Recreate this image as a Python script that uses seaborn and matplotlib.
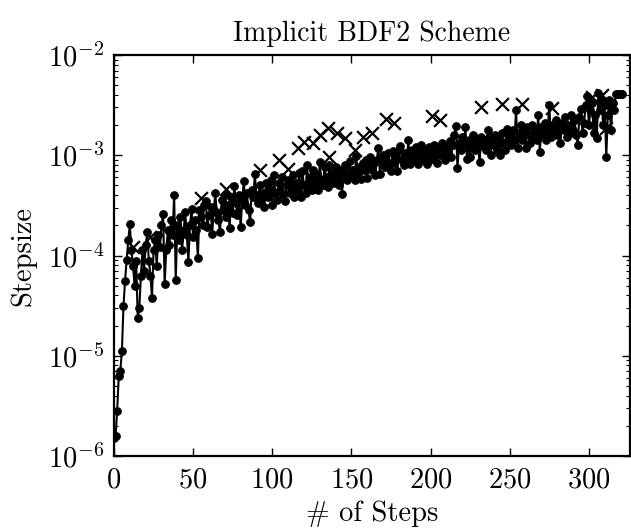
import matplotlib
matplotlib.use("Agg")
import matplotlib.pyplot as plt
import matplotlib.ticker as mticker
import numpy as np
import seaborn as sns

# log10 of the accepted step size at each step
log_stepsize = [
    -5.82, -5.80, -5.55, -5.20, -5.15, -4.95, -4.50, -4.25, -4.04, -3.85,
    -3.69, -3.95, -4.10, -4.30, -4.05, -4.62, -4.52, -4.20, -3.95, -4.15,
    -3.90, -3.77, -4.05, -4.20, -4.42, -3.95, -3.85, -4.10, -3.80, -3.92,
    -3.70, -3.59, -4.28, -3.95, -3.75, -3.90, -3.65, -3.80, -3.40, -4.24,
    -3.70, -3.85, -3.62, -3.95, -3.75, -3.57, -3.80, -4.06, -3.70, -3.54,
    -3.82, -3.65, -3.75, -4.02, -3.55, -3.62, -3.70, -3.50, -3.46, -3.72,
    -3.60, -3.52, -3.79, -3.55, -3.38, -3.58, -3.65, -3.77, -3.45, -3.55,
    -3.40, -3.62, -3.50, -3.73, -3.42, -3.58, -3.31, -3.48, -3.60, -3.40,
    -3.72, -3.45, -3.26, -3.50, -3.38, -3.55, -3.67, -3.35, -3.42, -3.19,
    -3.40, -3.48, -3.30, -3.45, -3.38, -3.52, -3.28, -3.42, -3.35, -3.25,
    -3.50, -3.20, -3.38, -3.45, -3.28, -3.35, -3.22, -3.40, -3.46, -3.30,
    -3.25, -3.38, -3.32, -3.20, -3.42, -3.28, -3.35, -3.18, -3.42, -3.16,
    -3.30, -3.38, -3.10, -3.32, -3.22, -3.35, -3.15, -3.28, -3.20, -3.35,
    -3.07, -3.25, -3.30, -3.12, -3.22, -3.32, -3.10, -3.25, -3.18, -3.28,
    -3.12, -3.22, -3.30, -3.15, -3.39, -3.20, -3.10, -3.25, -3.18, -3.06,
    -3.20, -3.15, -3.25, -3.01, -3.18, -3.12, -3.24, -3.08, -3.15, -3.05,
    -3.23, -3.10, -3.02, -3.15, -3.08, -3.20, -3.05, -2.93, -3.19, -3.05,
    -3.00, -3.12, -3.05, -2.98, -3.10, -3.16, -2.96, -3.08, -3.02, -3.16,
    -2.95, -2.91, -3.05, -3.10, -2.98, -3.02, -2.85, -3.09, -2.95, -3.00,
    -3.05, -2.92, -3.09, -2.98, -2.90, -3.04, -2.95, -3.02, -3.09, -2.92,
    -2.96, -3.04, -2.90, -2.98, -3.08, -2.93, -3.00, -2.88, -2.95, -3.05,
    -2.92, -2.98, -2.86, -3.02, -2.90, -2.80, -2.71, -3.13, -2.88, -2.95,
    -2.82, -2.90, -2.72, -3.04, -2.85, -3.02, -2.88, -2.80, -2.95, -2.85,
    -2.92, -3.07, -2.82, -2.90, -2.85, -2.95, -2.75, -2.88, -3.00, -2.82,
    -2.90, -2.80, -2.95, -2.85, -3.00, -2.78, -2.88, -2.95, -2.74, -2.85,
    -2.80, -2.90, -2.75, -2.85, -2.55, -2.93, -2.78, -2.70, -2.85, -2.76,
    -2.93, -2.72, -2.80, -2.88, -2.70, -2.82, -2.75, -2.85, -2.60, -2.97,
    -2.72, -2.80, -2.68, -2.85, -2.75, -2.50, -2.82, -2.70, -2.78, -2.65,
    -2.80, -2.70, -2.88, -2.68, -2.75, -2.62, -2.82, -2.70, -2.78, -2.60,
    -2.75, -2.65, -2.80, -2.90, -2.62, -2.54, -2.78, -2.68, -2.50, -2.41,
    -2.70, -2.55, -2.48, -2.78, -2.60, -2.83, -2.38, -2.55, -2.45, -2.70,
    -2.50, -3.02, -2.60, -2.45, -2.75, -2.48, -2.55, -2.39, -2.39, -2.39,
    -2.39, -2.39,
]
steps = list(range(len(log_stepsize)))

# rejected step attempts: step number and log10 of the attempted size
rejected_steps = [12, 23, 55, 71, 92, 104, 110, 116, 120, 126, 130, 135, 136,
                  141, 146, 152, 157, 163, 172, 177, 201, 206, 232, 245, 258,
                  277, 302, 308, 311, 311]
rejected_log = [-3.92, -3.82, -3.43, -3.34, -3.15, -3.05, -3.14, -2.93, -2.87,
                -2.88, -2.80, -2.73, -3.02, -2.78, -2.83, -2.95, -2.82, -2.78,
                -2.64, -2.68, -2.61, -2.65, -2.52, -2.49, -2.49, -2.53, -2.42,
                -2.40, -2.50, -2.73]

x_ticks = [0, 50, 100, 150, 200, 250, 300]
y_ticks = [1e-6, 1e-5, 1e-4, 1e-3, 1e-2]

stepsize = [10.0 ** v for v in log_stepsize]
rejected = [10.0 ** v for v in rejected_log]

sns.set_theme(style="ticks")
plt.rcParams["font.family"] = ["cmr10", "DejaVu Serif"]
plt.rcParams["mathtext.fontset"] = "cm"
plt.rcParams["axes.formatter.use_mathtext"] = True
plt.rcParams["axes.unicode_minus"] = False

fig = plt.figure(figsize=(6.31, 5.28), dpi=100)
ax = fig.add_axes([114 / 631, 1 - 456 / 528, (630 - 114) / 631, (456 - 55) / 528])

sns.lineplot(x=steps, y=stepsize, ax=ax, color="black", linewidth=1.5,
             marker="o", markersize=5.5, markeredgecolor="black",
             markerfacecolor="black", sort=False, estimator=None)
sns.scatterplot(x=rejected_steps, y=rejected, ax=ax, marker="x", s=85,
                color="black", linewidth=1.6, zorder=5)

ax.set_yscale("log")
ax.set_xlim(0, 326)
ax.set_ylim(1e-6, 1e-2)
ax.set_xticks(x_ticks)
ax.set_yticks(y_ticks)
ax.yaxis.set_minor_locator(mticker.LogLocator(base=10, subs=np.arange(2, 10)))
ax.yaxis.set_minor_formatter(mticker.NullFormatter())

ax.tick_params(axis="both", which="both", direction="in", top=True,
               right=True, labelsize=20.5, colors="black")
ax.tick_params(axis="both", which="major", length=6, width=1.0)
ax.tick_params(axis="x", which="major", pad=8)
ax.tick_params(axis="y", which="major", pad=7)
ax.tick_params(axis="y", which="minor", length=3, width=0.8)

for side in ax.spines.values():
    side.set_color("black")
    side.set_linewidth(1.6)

ax.set_title("Implicit BDF2 Scheme", fontsize=20, color="black", pad=10)
ax.set_xlabel("# of Steps", fontsize=20.5, color="black", labelpad=5)
ax.set_ylabel("Stepsize", fontsize=20.5, color="black", labelpad=8)

fig.savefig("out.png", dpi=100, facecolor="white")
